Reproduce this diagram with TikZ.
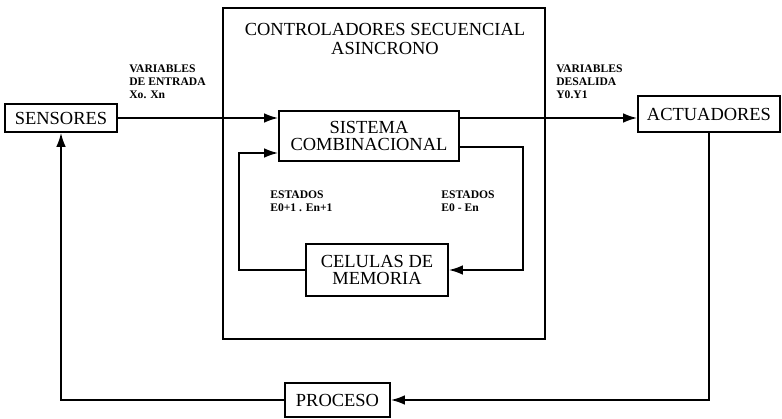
\documentclass[tikz,border=0pt]{standalone}
\usepackage{fontspec}
\setmainfont{Liberation Serif}
\usetikzlibrary{arrows.meta,positioning}
\tikzset{
  blk/.style={draw,line width=1pt,fill=white,align=center,inner sep=1pt,font=\fontsize{10.5}{10}\selectfont},
  lbl/.style={align=left,inner sep=0pt,font=\bfseries\fontsize{6.6}{7.6}\selectfont},
  arr/.style={line width=1pt,-{Latex[length=8pt,width=5.5pt]}}
}
\begin{document}
\begin{tikzpicture}[x=0.02cm,y=-0.02cm]
			\useasboundingbox (0,0) rectangle (782,419);
			% controlador
			\node [draw,line width=1pt,minimum width=322*0.02cm,minimum height=331*0.02cm] (ctrl) at (384,173.5) {};
			\node [align=center,inner sep=0pt,font=\fontsize{10.5}{11}\selectfont,anchor=north] (tit) at (385,23) {CONTROLADORES SECUENCIAL\\ASINCRONO};
			% bloques
			\node [blk,minimum width=112*0.02cm,minimum height=28*0.02cm] (sen) at (61,118) {SENSORES};
			\node [blk,minimum width=142*0.02cm,minimum height=36*0.02cm] (act) at (709,114) {ACTUADORES};
			\node [blk,minimum width=180*0.02cm,minimum height=50*0.02cm] (sis) at (369,136) {SISTEMA\\COMBINACIONAL};
			\node [blk,minimum width=142*0.02cm,minimum height=52*0.02cm] (cel) at (377,270) {CELULAS DE\\MEMORIA};
			\node [blk,minimum width=105*0.02cm,minimum height=34*0.02cm] (pro) at (337.5,400) {PROCESO};
			% etiquetas
			\node [lbl,anchor=north west] (ven) at (129,64) {VARIABLES\\DE ENTRADA\\Xo. Xn};
			\node [lbl,anchor=north west] (vsa) at (556,64) {VARIABLES\\DESALIDA\\Y0.Y1};
			\node [lbl,anchor=north west] (esa) at (270,190) {ESTADOS\\E0+1 . En+1};
			\node [lbl,anchor=north west] (esb) at (441,190) {ESTADOS\\E0 - En};
			% conexiones
			\coordinate (lin) at (239,153);
			\coordinate (rin) at (523,147);
			\draw [arr] (sen.east) -- (sen.east -| sis.west);
			\draw [arr] (sen.east -| sis.east) -- (sen.east -| act.west);
			\draw [arr] (sis.east |- rin) -- (rin) |- (cel.east);
			\draw [arr] (cel.west) -| (lin) -- (lin -| sis.west);
			\draw [arr] (act.south) |- (pro.east);
			\draw [arr] (pro.west) -| (sen.south);
		\end{tikzpicture}
\end{document}
